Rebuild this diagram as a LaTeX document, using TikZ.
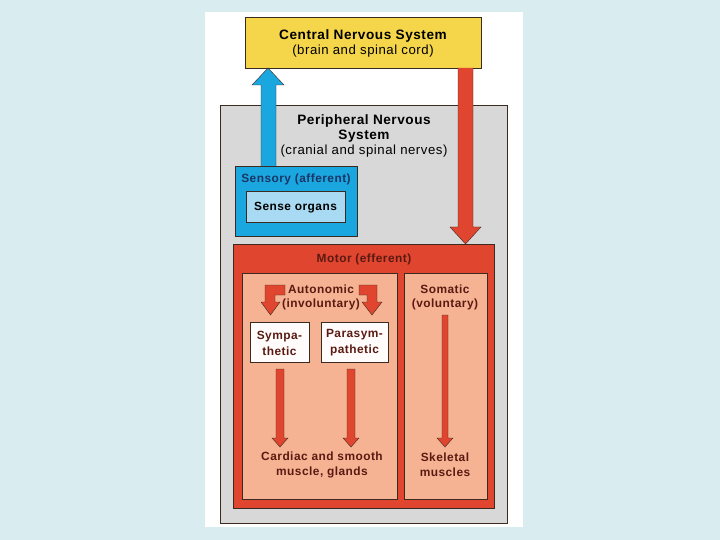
\documentclass[tikz,border=0pt]{standalone}
\usepackage{fontspec}
\setmainfont{Liberation Sans}[LetterSpace=4]
\definecolor{bgc}{HTML}{D9EDF0}
\definecolor{cnsy}{HTML}{F5D54A}
\definecolor{pnsg}{HTML}{D8D8D8}
\definecolor{redc}{HTML}{E0452F}
\definecolor{salm}{HTML}{F6B393}
\definecolor{bluec}{HTML}{1AA7E0}
\definecolor{lblue}{HTML}{A9DAF3}
\definecolor{edge}{HTML}{3A2A20}
\definecolor{btxt}{HTML}{1A3566}
\definecolor{mtxt}{HTML}{5A1A12}
\newcommand{\ttl}{\bfseries\fontsize{13.6}{15}\selectfont}
\newcommand{\sub}{\mdseries\fontsize{13.2}{15}\selectfont}
\begin{document}
\begin{tikzpicture}[x=1pt,y=-1pt,
  box/.style={draw=edge,line width=0.6pt},
  lbl/.style={font=\bfseries\fontsize{11.9}{15}\selectfont,align=center,inner sep=0pt,text=black},
  arr/.style={draw=edge,line width=0.4pt,fill=redc}]
\useasboundingbox (0,0) rectangle (720,540);
\fill[bgc] (0,0) rectangle (720,540);
\fill[white] (205,12) rectangle (523,527);
% PNS
\draw[box,fill=pnsg] (220,105) rectangle (507,523);
% CNS
\draw[box,fill=cnsy] (245,17) rectangle (481,68);
\node[lbl] (cns) at (363,43.5) {\ttl Central Nervous System\\\sub (brain and spinal cord)};
\node[lbl] (pns) at (364,136) {\ttl Peripheral Nervous\\\ttl System\\\sub (cranial and spinal nerves)};
% Sensory
\draw[box,fill=bluec] (235,166) rectangle (357,236);
\node[lbl,text=btxt] (sens) at (296,179) {Sensory (afferent)};
\draw[box,fill=lblue] (246,191) rectangle (345,222);
\node[lbl] (so) at (295.5,207.5) {Sense organs};
% blue arrow
\draw[draw=edge,line width=0.4pt,fill=bluec] (261,166) -- (261,85) -- (252,85) -- (268,68) -- (284,85) -- (276,85) -- (276,166);
% red arrow
\draw[arr] (458,68) -- (458,227) -- (450,227) -- (465.5,244) -- (481,227) -- (473,227) -- (473,68);
% Motor
\draw[box,fill=redc] (233,244) rectangle (494,508);
\node[lbl,text=mtxt] (mot) at (364,259) {Motor (efferent)};
\draw[box,fill=salm] (242,273) rectangle (397,499);
\draw[box,fill=salm] (404,273) rectangle (487,499);
\node[lbl,text=mtxt,font=\bfseries\fontsize{11.9}{14}\selectfont] (aut) at (321,297.5) {Autonomic\\(involuntary)};
\node[lbl,text=mtxt,font=\bfseries\fontsize{11.9}{14}\selectfont] (som) at (445,297.5) {Somatic\\(voluntary)};
% bent arrows
\draw[arr] (285,285) -- (265,285) -- (265,302) -- (261,302) -- (270.5,315) -- (280,302) -- (275,302) -- (275,295) -- (285,295) -- cycle;
\draw[arr] (359,285) -- (377,285) -- (377,302) -- (382,302) -- (372,315) -- (362,302) -- (367,302) -- (367,295) -- (359,295) -- cycle;
% sympathetic boxes
\draw[box,fill=white!96!salm] (250,322) rectangle (309,362);
\node[lbl,text=mtxt,font=\bfseries\fontsize{11.9}{16}\selectfont] (sym) at (279.5,343) {Sympa-\\thetic};
\draw[box,fill=white!96!salm] (321,322) rectangle (388,362);
\node[lbl,text=mtxt,font=\bfseries\fontsize{11.9}{16}\selectfont] (par) at (354.5,343) {Parasym-\\pathetic};
% vertical arrows
\draw[arr] (276,369) -- (276,438) -- (272,438) -- (280,447) -- (288,438) -- (284,438) -- (284,369) -- cycle;
\draw[arr] (347,369) -- (347,438) -- (343,438) -- (351,447) -- (359,438) -- (355,438) -- (355,369) -- cycle;
\draw[arr] (442,315) -- (442,438) -- (437,438) -- (445,447) -- (453,438) -- (448,438) -- (448,315) -- cycle;
\node[lbl,text=mtxt] (card) at (322,465) {Cardiac and smooth\\muscle, glands};
\node[lbl,text=mtxt] (skel) at (445,465) {Skeletal\\muscles};
\end{tikzpicture}
\end{document}
